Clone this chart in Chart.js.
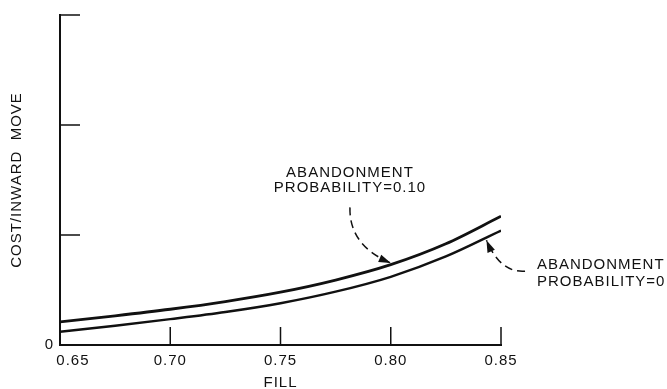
<!DOCTYPE html>
<html>
<head>
<meta charset="utf-8">
<script src="https://cdn.jsdelivr.net/npm/chart.js@4.4.1/dist/chart.umd.min.js"></script>
<style>
  html, body { margin: 0; padding: 0; background: #fff; }
  canvas { display: block; }
</style>
</head>
<body>
<canvas id="fillChart" width="667" height="389"></canvas>
<script>
// ─── Data ──────────────────────────────────────────────────────────────────────
const fillLevels = [0.65, 0.675, 0.70, 0.725, 0.75, 0.775, 0.80, 0.825, 0.85];
const costP10    = [0.21, 0.265, 0.325, 0.395, 0.48, 0.59, 0.73, 0.92, 1.17];
const costP0     = [0.12, 0.175, 0.235, 0.30, 0.38, 0.485, 0.62, 0.805, 1.04];
const xTicks     = [0.65, 0.70, 0.75, 0.80, 0.85];
const yTicks     = [0, 1, 2, 3];

// callouts, positioned in data units
const notes = [
  { lines: ['ABANDONMENT', 'PROBABILITY=0.10'], align: 'center', at: [0.7815, 1.563], gap: 15,
    arrow: { from: [0.7815, 1.251], via: [0.781, 0.906], to: [0.80, 0.745] } },
  { lines: ['ABANDONMENT', 'PROBABILITY=0'], align: 'left', at: [0.8663, 0.73], gap: 17.5,
    arrow: { from: [0.8609, 0.671], via: [0.8498, 0.653], to: [0.8434, 0.952] } }
];

const INK = '#111';
const FONT = { family: '"Liberation Sans", Arial, sans-serif', size: 15 };

// ─── Plugins ───────────────────────────────────────────────────────────────────
const spacing = {
  id: 'spacing',
  beforeLayout: (chart) => { chart.ctx.letterSpacing = '1px'; },
  beforeDraw: (chart) => { chart.ctx.letterSpacing = '1px'; }
};

// tick marks point into the plot, like the original drawing
const inwardTicks = {
  id: 'inwardTicks',
  afterDraw: (chart) => {
    const { ctx, scales: { x, y } } = chart;
    ctx.save();
    ctx.strokeStyle = INK;
    ctx.lineWidth = 1.5;
    ctx.beginPath();
    xTicks.slice(1).forEach(v => {
      const px = x.getPixelForValue(v);
      ctx.moveTo(px, y.bottom);
      ctx.lineTo(px, y.bottom - 18);
    });
    yTicks.slice(1).forEach(v => {
      const py = y.getPixelForValue(v);
      ctx.moveTo(x.left, py);
      ctx.lineTo(x.left + 20, py);
    });
    ctx.stroke();
    ctx.restore();
  }
};

const callouts = {
  id: 'callouts',
  afterDraw: (chart) => {
    const { ctx, scales: { x, y } } = chart;
    const pt = ([a, b]) => [x.getPixelForValue(a), y.getPixelForValue(b)];
    ctx.save();
    ctx.fillStyle = INK;
    ctx.strokeStyle = INK;
    ctx.font = `${FONT.size}px ${FONT.family}`;
    ctx.letterSpacing = '1px';
    ctx.textBaseline = 'middle';

    notes.forEach(n => {
      const [tx, ty] = pt(n.at);
      ctx.textAlign = n.align;
      n.lines.forEach((line, i) => ctx.fillText(line, tx, ty + i * n.gap));

      const [x0, y0] = pt(n.arrow.from);
      const [cx, cy] = pt(n.arrow.via);
      const [x1, y1] = pt(n.arrow.to);
      ctx.lineWidth = 1.5;
      ctx.setLineDash([8, 5]);
      ctx.beginPath();
      ctx.moveTo(x0, y0);
      ctx.quadraticCurveTo(cx, cy, x1, y1);
      ctx.stroke();
      ctx.setLineDash([]);

      // arrow head
      const ang = Math.atan2(y1 - cy, x1 - cx);
      const len = 12, half = 4;
      ctx.beginPath();
      ctx.moveTo(x1, y1);
      ctx.lineTo(x1 - len * Math.cos(ang) + half * Math.sin(ang), y1 - len * Math.sin(ang) - half * Math.cos(ang));
      ctx.lineTo(x1 - len * Math.cos(ang) - half * Math.sin(ang), y1 - len * Math.sin(ang) + half * Math.cos(ang));
      ctx.closePath();
      ctx.fill();
    });
    ctx.restore();
  }
};

// ─── Chart ─────────────────────────────────────────────────────────────────────
const toPoints = (ys) => fillLevels.map((f, i) => ({ x: f, y: ys[i] }));

new Chart(document.getElementById('fillChart'), {
  type: 'line',
  data: {
    datasets: [
      { label: 'Abandonment probability = 0.10', data: toPoints(costP10),
        borderColor: INK, borderWidth: 2.8, pointRadius: 0, fill: false, cubicInterpolationMode: 'monotone' },
      { label: 'Abandonment probability = 0', data: toPoints(costP0),
        borderColor: INK, borderWidth: 2.4, pointRadius: 0, fill: false, cubicInterpolationMode: 'monotone' }
    ]
  },
  options: {
    responsive: false,
    animation: false,
    layout: { padding: { top: 14, right: 166, left: 0, bottom: 0 } },
    plugins: { legend: { display: false }, tooltip: { enabled: false } },
    scales: {
      x: {
        type: 'linear',
        min: 0.65,
        max: 0.85,
        afterBuildTicks: (s) => { s.ticks = xTicks.map(v => ({ value: v })); },
        afterFit: (s) => { s.height = 44; },
        grid: { display: false, drawTicks: false },
        border: { display: true, color: INK, width: 2 },
        ticks: {
          color: INK, font: FONT, padding: 7, maxRotation: 0, autoSkip: false,
          callback: (v) => v === 0.65 ? '     0.65' : v.toFixed(2)
        },
        title: { display: true, text: 'FILL', color: INK, font: FONT, padding: { top: 0, bottom: -3 } }
      },
      y: {
        min: 0,
        max: 3,
        afterBuildTicks: (s) => { s.ticks = yTicks.map(v => ({ value: v })); },
        afterFit: (s) => { s.width = 60; },
        grid: { display: false, drawTicks: false },
        border: { display: true, color: INK, width: 2 },
        ticks: { color: INK, font: FONT, padding: 6, callback: (v) => v === 0 ? '0' : '' },
        title: { display: true, text: 'COST/INWARD  MOVE', color: INK, font: FONT, padding: { top: 8, bottom: 0 } }
      }
    }
  },
  plugins: [spacing, inwardTicks, callouts]
});
</script>
</body>
</html>
